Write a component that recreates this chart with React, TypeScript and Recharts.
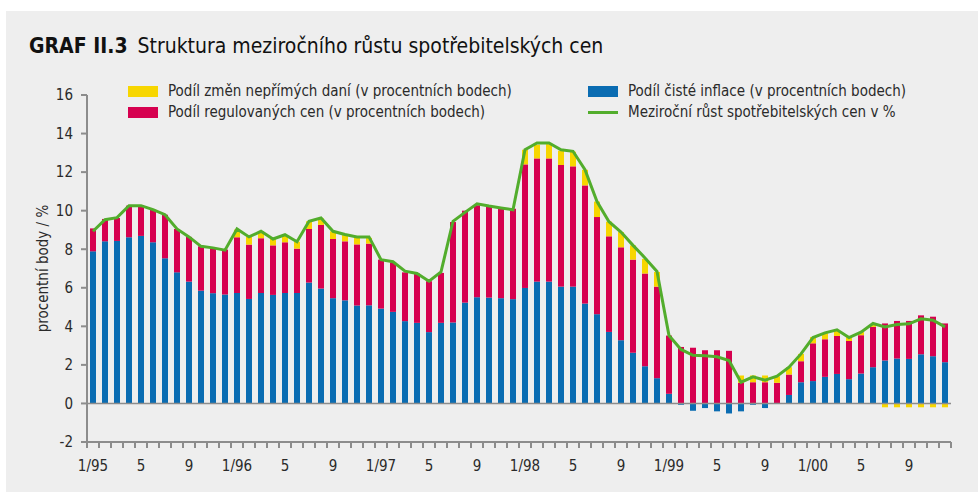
import React from 'react';
import { ComposedChart, Bar, Line, XAxis, YAxis, ReferenceLine } from 'recharts';

const years = ['95', '96', '97', '98', '99', '00'];
const monthNums = [1, 2, 3, 4, 5, 6, 7, 8, 9, 10, 11, 12];

// Podíl čisté inflace (p.b.)
const core = [
  7.89, 8.41, 8.43, 8.62, 8.69, 8.36, 7.53, 6.8, 6.32, 5.85, 5.72, 5.65,
  5.73, 5.42, 5.73, 5.63, 5.73, 5.73, 6.27, 5.96, 5.46, 5.35, 5.08, 5.09,
  4.92, 4.75, 4.27, 4.18, 3.7, 4.18, 4.2, 5.23, 5.51, 5.49, 5.46, 5.41,
  5.99, 6.32, 6.32, 6.06, 6.06, 5.18, 4.63, 3.71, 3.28, 2.63, 1.93, 1.31,
  0.5, -0.07, -0.38, -0.24, -0.41, -0.52, -0.41, -0.07, -0.24, 0.0, 0.44, 1.1,
  1.16, 1.38, 1.53, 1.26, 1.55, 1.88, 2.23, 2.33, 2.31, 2.55, 2.45, 2.14,
];

// Podíl regulovaných cen (p.b.)
const regulated = [
  1.19, 1.16, 1.19, 1.64, 1.6, 1.69, 2.26, 2.25, 2.32, 2.3, 2.35, 2.33,
  2.89, 2.82, 2.84, 2.57, 2.63, 2.3, 2.78, 3.3, 3.07, 3.06, 3.17, 3.2,
  2.54, 2.57, 2.53, 2.56, 2.64, 2.59, 5.21, 4.77, 4.77, 4.7, 4.64, 4.69,
  6.41, 6.39, 6.39, 6.31, 6.24, 6.13, 5.04, 4.96, 4.82, 4.83, 4.81, 4.75,
  3.02, 2.93, 2.89, 2.76, 2.76, 2.73, 1.07, 1.1, 1.1, 1.07, 1.06, 1.09,
  1.96, 1.95, 1.97, 1.98, 1.99, 2.09, 1.92, 1.95, 1.97, 2.02, 2.05, 2.01,
];

// Podíl změn nepřímých daní (p.b.)
const taxes = [
  0, 0, 0, 0, 0, 0, 0, 0, 0, 0, 0, 0,
  0.4, 0.4, 0.36, 0.33, 0.34, 0.36, 0.4, 0.34, 0.4, 0.35, 0.39, 0.3,
  0, 0, 0, 0, 0, 0, 0, 0, 0, 0, 0, 0,
  0.76, 0.71, 0.74, 0.74, 0.76, 0.81, 0.8, 0.76, 0.79, 0.74, 0.76, 0.76,
  0, 0, 0, 0, 0, 0, 0.38, 0.35, 0.35, 0.34, 0.38, 0.38,
  0.33, 0.31, 0.3, 0.2, 0.16, 0.14, -0.2, -0.2, -0.2, -0.2, -0.2, -0.2,
];

// Meziroční růst spotřebitelských cen v %
const cpi = [
  8.93, 9.53, 9.64, 10.26, 10.26, 10.05, 9.79, 9.05, 8.64, 8.15, 8.07, 7.95,
  9.05, 8.64, 8.93, 8.53, 8.75, 8.39, 9.45, 9.62, 8.93, 8.76, 8.64, 8.64,
  7.46, 7.35, 6.86, 6.74, 6.34, 6.82, 9.45, 9.91, 10.36, 10.24, 10.14, 10.05,
  13.16, 13.51, 13.51, 13.16, 13.08, 12.12, 10.47, 9.43, 8.89, 8.2, 7.55, 6.85,
  3.52, 2.8, 2.5, 2.47, 2.42, 2.23, 1.1, 1.38, 1.21, 1.41, 1.88, 2.57,
  3.42, 3.66, 3.82, 3.42, 3.7, 4.15, 3.97, 4.09, 4.13, 4.39, 4.32, 3.97,
];

const yTicks = [-2, 0, 2, 4, 6, 8, 10, 12, 14, 16];

const periods: string[] = [];
const tickLabels: string[] = [];
years.forEach((y) => {
  monthNums.forEach((m) => {
    periods.push(`${m}/${y}`);
    tickLabels.push(m === 1 ? `1/${y}` : m === 5 ? '5' : m === 9 ? '9' : '');
  });
});

// Stack the components by sign (positive parts upward from 0, negative parts downward from 0)
const data = periods.map((p, i) => {
  const c = core[i];
  const r = regulated[i];
  const t = taxes[i];
  const posBase = Math.max(c, 0);
  const negBase = Math.min(c, 0);
  const redRange = [posBase, posBase + r];
  const posTop = posBase + r;
  const yellowRange = t >= 0 ? [posTop, posTop + t] : [negBase + t, negBase];
  const blueRange = c >= 0 ? [0, c] : [c, 0];
  return {
    period: p,
    core: blueRange,
    regulated: redRange,
    taxes: yellowRange,
    cpi: cpi[i],
  };
});

const FONT = '"DejaVu Sans Condensed", "Liberation Sans Narrow", Arial, sans-serif';
const BLUE = '#0a6cb2';
const RED = '#d6004f';
const YELLOW = '#f7d600';
const GREEN = '#52ad2c';
const AXIS = '#8c8c8c';
const TEXT = '#2a2a2a';

const MonthTick = (props: any) => {
  const { x, y, index, width, visibleTicksCount } = props;
  const half = width / visibleTicksCount / 2;
  const axisY = y - 8;
  const label = tickLabels[index];
  return (
    <g>
      <line x1={x - half} x2={x - half} y1={axisY} y2={axisY + 6} stroke={AXIS} strokeWidth={2} />
      {index === visibleTicksCount - 1 && (
        <line x1={x + half} x2={x + half} y1={axisY} y2={axisY + 6} stroke={AXIS} strokeWidth={2} />
      )}
      {label && (
        <text x={x} y={axisY + 29} textAnchor="middle" fontSize={15} fill={TEXT} fontFamily={FONT}>
          {label}
        </text>
      )}
    </g>
  );
};

const legendItems = [
  { left: 128, top: 82, color: YELLOW, label: 'Podíl změn nepřímých daní (v procentních bodech)', line: false },
  { left: 128, top: 103, color: RED, label: 'Podíl regulovaných cen (v procentních bodech)', line: false },
  { left: 588, top: 82, color: BLUE, label: 'Podíl čisté inflace (v procentních bodech)', line: false },
  { left: 588, top: 103, color: GREEN, label: 'Meziroční růst spotřebitelských cen v %', line: true },
];

export default function App() {
  return (
    <div style={{ position: 'absolute', left: 0, top: 0, width: 978, height: 495, background: '#ffffff', overflow: 'hidden' }}>
      <div style={{ position: 'absolute', left: 6, top: 11, width: 972, height: 481, background: '#eeeeee' }} />
      <div
        style={{
          position: 'absolute',
          left: 29,
          top: 34,
          fontFamily: FONT,
          fontSize: 21,
          color: '#111',
          whiteSpace: 'nowrap',
        }}
      >
        <span style={{ fontWeight: 'bold' }}>GRAF II.3</span>
        <span style={{ marginLeft: 10 }}>Struktura meziročního růstu spotřebitelských cen</span>
      </div>
      {legendItems.map((it) => (
        <div
          key={it.label}
          style={{ position: 'absolute', left: it.left, top: it.top, display: 'flex', alignItems: 'center', whiteSpace: 'nowrap' }}
        >
          <div style={{ width: 30, height: it.line ? 3 : 11, background: it.color, marginRight: 10 }} />
          <span style={{ fontSize: 15, color: TEXT, fontFamily: FONT }}>{it.label}</span>
        </div>
      ))}
      <div style={{ position: 'absolute', left: 0, top: 0 }}>
        <ComposedChart
          width={978}
          height={495}
          data={data}
          margin={{ top: 95, right: 27, bottom: 23, left: 27 }}
        >
          <XAxis
            dataKey="period"
            xAxisId="main"
            interval={0}
            height={30}
            tickSize={6}
            tickMargin={2}
            tickLine={false}
            axisLine={{ stroke: AXIS, strokeWidth: 2 }}
            tick={<MonthTick />}
          />
          <XAxis dataKey="period" xAxisId="red" hide />
          <XAxis dataKey="period" xAxisId="yellow" hide />
          <YAxis
            type="number"
            domain={[-2, 16]}
            ticks={yTicks}
            interval={0}
            width={60}
            tickSize={6}
            tickMargin={8}
            allowDataOverflow
            axisLine={{ stroke: AXIS, strokeWidth: 2 }}
            tickLine={{ stroke: AXIS, strokeWidth: 2 }}
            tick={{ fontSize: 15, fill: TEXT, fontFamily: FONT }}
            label={{
              value: 'procentní body / %',
              angle: -90,
              position: 'center',
              dx: -14,
              style: { fontSize: 15, fill: TEXT, fontFamily: FONT, textAnchor: 'middle' },
            }}
          />
          <ReferenceLine y={0} xAxisId="main" stroke={AXIS} strokeWidth={1.5} />
          <Bar dataKey="core" xAxisId="main" barSize={6} fill={BLUE} isAnimationActive={false} />
          <Bar dataKey="regulated" xAxisId="red" barSize={6} fill={RED} isAnimationActive={false} />
          <Bar dataKey="taxes" xAxisId="yellow" barSize={6} fill={YELLOW} isAnimationActive={false} />
          <Line
            dataKey="cpi"
            xAxisId="main"
            type="linear"
            stroke={GREEN}
            strokeWidth={3}
            dot={false}
            activeDot={false}
            isAnimationActive={false}
          />
        </ComposedChart>
      </div>
    </div>
  );
}
